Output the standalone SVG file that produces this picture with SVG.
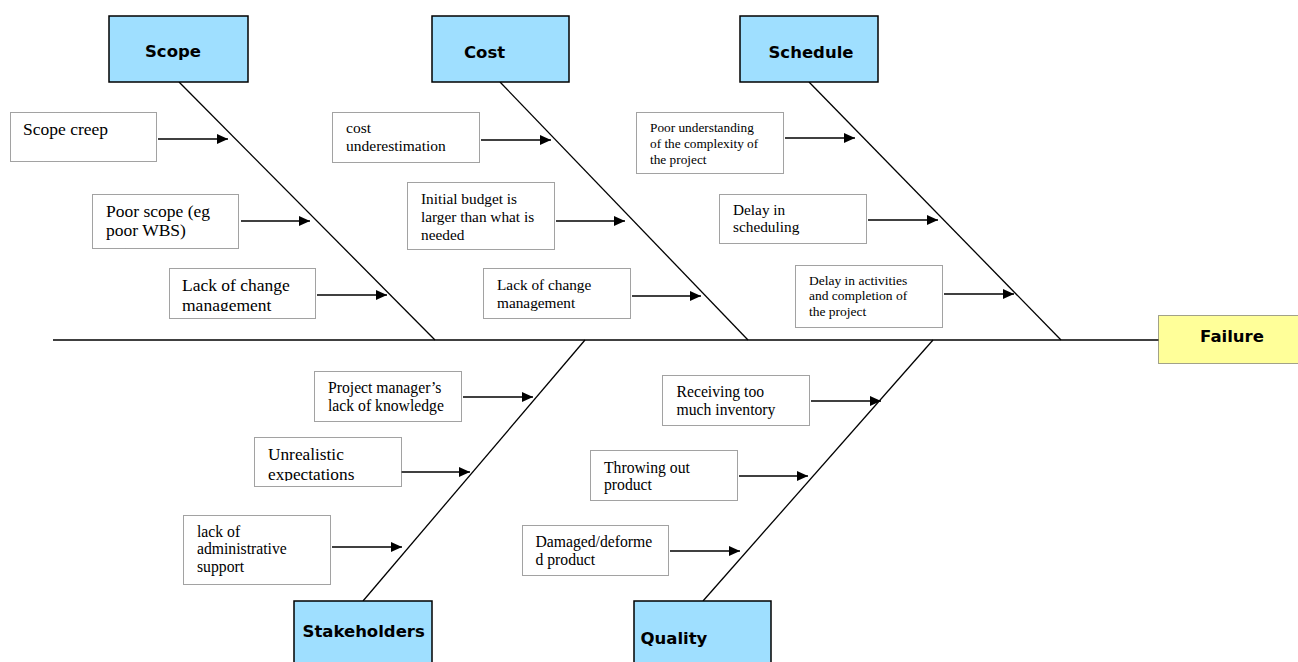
<svg xmlns="http://www.w3.org/2000/svg" width="1298" height="662" viewBox="0 0 1298 662">
  <style>
    .cat { fill: #9FDFFF; stroke: #000; stroke-width: 1.5; }
    .catText { font-family: "DejaVu Sans", "Liberation Sans", sans-serif; font-weight: bold; font-size: 16.5px; fill: #000; }
    .cause { fill: #fff; stroke: #444; stroke-width: 1; stroke-dasharray: 1 1; }
    .effect { fill: #FFFF99; stroke: #444; stroke-width: 1; stroke-dasharray: 1 1; }
    .t { font-family: "Liberation Serif", "Times New Roman", serif; fill: #000; }
    .bone { stroke: #000; stroke-width: 1.3; fill: none; }
    .arrow { stroke: #000; stroke-width: 1.6; fill: none; marker-end: url(#head); }
  </style>
  <defs>
    <marker id="head" markerUnits="userSpaceOnUse" markerWidth="12" markerHeight="10" refX="11" refY="5" orient="auto">
      <path d="M0,0 L11,5 L0,10 Z" fill="#000"/>
    </marker>
    <clipPath id="clipScopeChange"><rect x="169" y="268" width="147" height="43"/></clipPath>
    <clipPath id="clipUnrealistic"><rect x="254" y="437" width="147" height="44"/></clipPath>
  </defs>

  <rect width="1298" height="662" fill="#fff"/>

  <!-- spine and bones -->
  <g id="connectors">
    <line class="bone" x1="53" y1="340" x2="1160" y2="340" stroke-width="1.5"/>
    <line class="bone" x1="179" y1="82" x2="435" y2="340"/>
    <line class="bone" x1="500" y1="82" x2="748" y2="340"/>
    <line class="bone" x1="809" y1="82" x2="1061" y2="340"/>
    <line class="bone" x1="585" y1="340" x2="363" y2="601"/>
    <line class="bone" x1="933" y1="340" x2="703" y2="601"/>

    <line class="arrow" x1="158" y1="139" x2="228" y2="139"/>
    <line class="arrow" x1="241" y1="221" x2="310" y2="221"/>
    <line class="arrow" x1="317" y1="295" x2="387" y2="295"/>

    <line class="arrow" x1="481" y1="140" x2="551" y2="140"/>
    <line class="arrow" x1="556" y1="221" x2="625" y2="221"/>
    <line class="arrow" x1="632" y1="296" x2="701" y2="296"/>

    <line class="arrow" x1="785" y1="138" x2="855" y2="138"/>
    <line class="arrow" x1="868" y1="220" x2="938" y2="220"/>
    <line class="arrow" x1="944" y1="294" x2="1014" y2="294"/>

    <line class="arrow" x1="463" y1="397" x2="533" y2="397"/>
    <line class="arrow" x1="401" y1="472" x2="470" y2="472"/>
    <line class="arrow" x1="332" y1="547" x2="402" y2="547"/>

    <line class="arrow" x1="811" y1="401" x2="881" y2="401"/>
    <line class="arrow" x1="739" y1="476" x2="808" y2="476"/>
    <line class="arrow" x1="670" y1="551" x2="740" y2="551"/>
  </g>

  <!-- categories -->
  <g id="scope">
    <rect class="cat" x="109" y="16" width="139" height="66"/>
    <text class="catText" x="173" y="57" text-anchor="middle">Scope</text>
  </g>
  <g id="cost">
    <rect class="cat" x="432" y="16" width="137" height="66"/>
    <text class="catText" x="464" y="58">Cost</text>
  </g>
  <g id="schedule">
    <rect class="cat" x="740" y="16" width="138" height="66"/>
    <text class="catText" x="811" y="58" text-anchor="middle">Schedule</text>
  </g>
  <g id="stakeholders">
    <rect class="cat" x="294" y="601" width="138" height="70"/>
    <text class="catText" x="302.5" y="637">Stakeholders</text>
  </g>
  <g id="quality">
    <rect class="cat" x="634" y="601" width="137" height="70"/>
    <text class="catText" x="640.5" y="644">Quality</text>
  </g>

  <!-- effect -->
  <g id="failure">
    <rect class="effect" x="1158.5" y="315.5" width="145" height="48"/>
    <text class="catText" x="1232" y="342" text-anchor="middle">Failure</text>
  </g>

  <!-- scope causes -->
  <g id="scope-creep">
    <rect class="cause" x="10.5" y="112.5" width="146" height="49"/>
    <text class="t" x="23" y="135" font-size="17.5">Scope creep</text>
  </g>
  <g id="poor-scope">
    <rect class="cause" x="92.5" y="194.5" width="146" height="54"/>
    <text class="t" x="106" y="217" font-size="17.5">Poor scope (eg</text>
    <text class="t" x="106" y="236" font-size="17.5">poor WBS)</text>
  </g>
  <g id="scope-change">
    <rect class="cause" x="169.5" y="268.5" width="146" height="50"/>
    <g clip-path="url(#clipScopeChange)">
      <text class="t" x="182" y="291" font-size="17.5">Lack of change</text>
      <text class="t" x="182" y="310.5" font-size="17.5">management</text>
    </g>
  </g>

  <!-- cost causes -->
  <g id="cost-under">
    <rect class="cause" x="332.5" y="112.5" width="147" height="50"/>
    <text class="t" x="346" y="133" font-size="15.5">cost</text>
    <text class="t" x="346" y="151" font-size="15.5">underestimation</text>
  </g>
  <g id="initial-budget">
    <rect class="cause" x="407.5" y="182.5" width="147" height="67"/>
    <text class="t" x="421" y="203.5" font-size="15.3">Initial budget is</text>
    <text class="t" x="421" y="221.5" font-size="15.3">larger than what is</text>
    <text class="t" x="421" y="239.5" font-size="15.3">needed</text>
  </g>
  <g id="cost-change">
    <rect class="cause" x="483.5" y="268.5" width="147" height="50"/>
    <text class="t" x="497" y="289.5" font-size="15.3">Lack of change</text>
    <text class="t" x="497" y="307.5" font-size="15.3">management</text>
  </g>

  <!-- schedule causes -->
  <g id="complexity">
    <rect class="cause" x="636.5" y="112.5" width="147" height="61"/>
    <text class="t" x="650" y="132" font-size="13.3">Poor understanding</text>
    <text class="t" x="650" y="148" font-size="13.3">of the complexity of</text>
    <text class="t" x="650" y="163.5" font-size="13.3">the project</text>
  </g>
  <g id="delay-scheduling">
    <rect class="cause" x="719.5" y="194.5" width="147" height="49"/>
    <text class="t" x="733" y="214.5" font-size="15.3">Delay in</text>
    <text class="t" x="733" y="231.5" font-size="15.3">scheduling</text>
  </g>
  <g id="delay-activities">
    <rect class="cause" x="795.5" y="265.5" width="147" height="62"/>
    <text class="t" x="809" y="284.5" font-size="13.5">Delay in activities</text>
    <text class="t" x="809" y="300" font-size="13.5">and completion of</text>
    <text class="t" x="809" y="316" font-size="13.5">the project</text>
  </g>

  <!-- stakeholder causes -->
  <g id="pm-knowledge">
    <rect class="cause" x="314.5" y="371.5" width="147" height="50"/>
    <text class="t" x="328" y="393" font-size="15.7">Project manager’s</text>
    <text class="t" x="328" y="410.5" font-size="15.7">lack of knowledge</text>
  </g>
  <g id="unrealistic">
    <rect class="cause" x="254.5" y="437.5" width="147" height="49"/>
    <g clip-path="url(#clipUnrealistic)">
      <text class="t" x="268" y="460" font-size="17.3">Unrealistic</text>
      <text class="t" x="268" y="480" font-size="17.3">expectations</text>
    </g>
  </g>
  <g id="admin-support">
    <rect class="cause" x="183.5" y="515.5" width="147" height="69"/>
    <text class="t" x="197" y="536.5" font-size="15.7">lack of</text>
    <text class="t" x="197" y="554" font-size="15.7">administrative</text>
    <text class="t" x="197" y="571.5" font-size="15.7">support</text>
  </g>

  <!-- quality causes -->
  <g id="inventory">
    <rect class="cause" x="662.5" y="375.5" width="147" height="50"/>
    <text class="t" x="676.5" y="397" font-size="15.7">Receiving too</text>
    <text class="t" x="676.5" y="414.5" font-size="15.7">much inventory</text>
  </g>
  <g id="throwing-out">
    <rect class="cause" x="590.5" y="450.5" width="147" height="50"/>
    <text class="t" x="604" y="472.5" font-size="15.7">Throwing out</text>
    <text class="t" x="604" y="489.5" font-size="15.7">product</text>
  </g>
  <g id="damaged">
    <rect class="cause" x="522.5" y="525.5" width="146" height="50"/>
    <text class="t" x="535.5" y="547" font-size="15.7">Damaged/deforme</text>
    <text class="t" x="535.5" y="564.5" font-size="15.7">d product</text>
  </g>
</svg>
